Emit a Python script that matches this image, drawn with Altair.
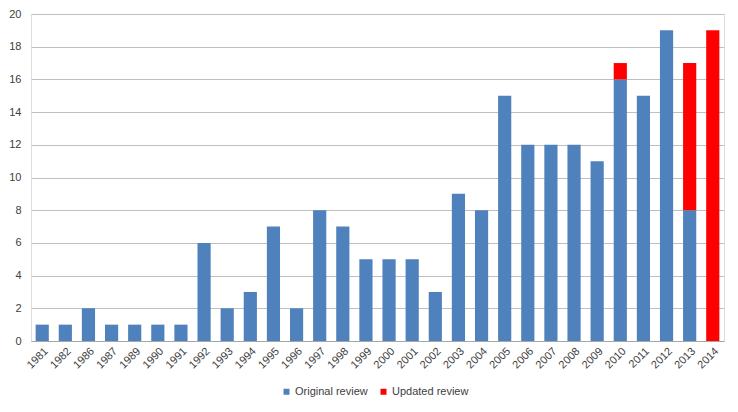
import altair as alt
import pandas as pd

years = ["1981","1982","1986","1987","1989","1990","1991","1992","1993","1994",
         "1995","1996","1997","1998","1999","2000","2001","2002","2003","2004",
         "2005","2006","2007","2008","2009","2010","2011","2012","2013","2014"]
original = [1,1,2,1,1,1,1,6,2,3,7,2,8,7,5,5,5,3,9,8,15,12,12,12,11,16,15,19,8,0]
updated =  [0,0,0,0,0,0,0,0,0,0,0,0,0,0,0,0,0,0,0,0,0,0,0,0,0,1,0,0,9,19]
series = ["Original review", "Updated review"]
colors = ["#4F81BD", "#FF0000"]

rows = []
for y, o, u in zip(years, original, updated):
    rows.append({"year": y, "series": series[0], "value": o, "ord": 0})
    rows.append({"year": y, "series": series[1], "value": u, "ord": 1})
df = pd.DataFrame(rows)

font = "Liberation Sans"
chart = alt.Chart(df).mark_bar().encode(
    x=alt.X("year:N", sort=years, title=None,
            scale=alt.Scale(paddingInner=0.43, paddingOuter=0.2),
            axis=alt.Axis(labelAngle=-45, ticks=False, domainColor="#A6A6A6",
                          labelFontSize=11, labelColor="#404040", labelFont=font,
                          labelPadding=4)),
    y=alt.Y("value:Q", stack="zero", title=None,
            scale=alt.Scale(domain=[0, 20], nice=False),
            axis=alt.Axis(values=list(range(0, 21, 2)), ticks=False, domain=False,
                          gridColor="#BFBFBF", labelFontSize=11, labelColor="#404040",
                          labelFont=font, labelPadding=10)),
    color=alt.Color("series:N", scale=alt.Scale(domain=series, range=colors),
                    legend=alt.Legend(title=None, orient="none", direction="horizontal",
                                      legendX=250, legendY=372, symbolType="square",
                                      symbolSize=36, labelFontSize=11, labelFont=font,
                                      labelColor="#404040", columnPadding=10,
                                      labelOffset=3, symbolStrokeWidth=0)),
    order=alt.Order("ord:Q"),
).properties(
    width=693, height=327,
    autosize=alt.AutoSizeParams(type="none"),
    padding={"left": 23, "top": 6, "right": 6, "bottom": 64},
).configure_view(stroke=None).configure(background="white")

chart.save("out.html", embed_options={"renderer": "svg", "actions": False})
